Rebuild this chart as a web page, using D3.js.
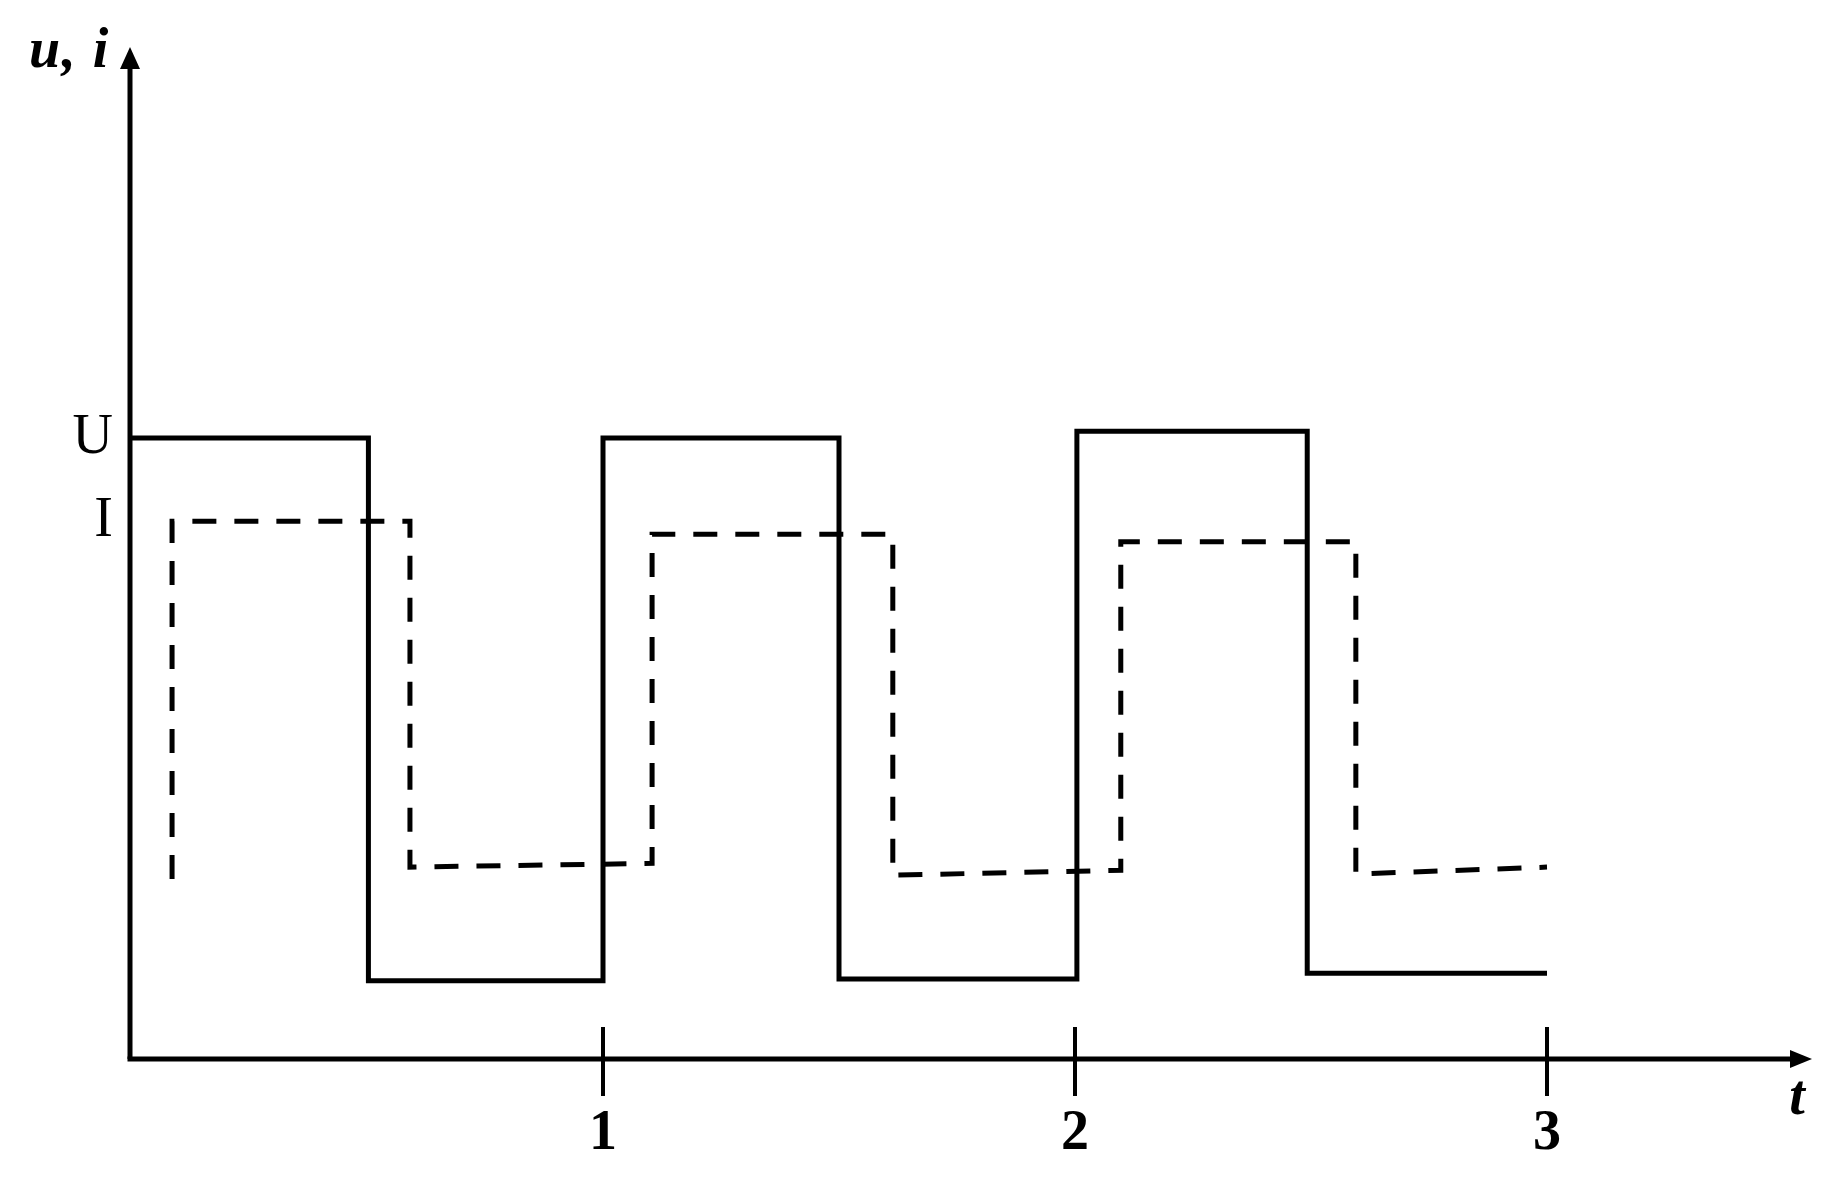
<!DOCTYPE html>
<html>
<head>
<meta charset="utf-8">
<script src="https://cdnjs.cloudflare.com/ajax/libs/d3/7.8.5/d3.min.js"></script>
<style>
  body { margin: 0; background: #fff; }
  text { font-family: "Liberation Serif", "DejaVu Serif", serif; fill: #000; }
</style>
</head>
<body>
<script>
// ---------------- DATA ----------------
var tTicks = [1, 2, 3]
var tickLabels = ['1', '2', '3']

// voltage u(t), step shape (t, value), U = 1
var uTimes  = [0, 0.503, 0.503, 1.0, 1.0, 1.5, 1.5, 2.004, 2.004, 2.492, 2.492, 3.0]
var uValues = [1.0, 1.0, 0.126, 0.126, 1.0, 1.0, 0.129, 0.129, 1.011, 1.011, 0.138, 0.138]

// current i(t), dashed
var iTimes  = [0.087, 0.087, 0.591, 0.591, 1.104, 1.104, 1.614, 1.614, 2.097, 2.097, 2.595, 2.595, 3.0]
var iValues = [0.290, 0.866, 0.866, 0.309, 0.315, 0.845, 0.845, 0.296, 0.304, 0.833, 0.833, 0.298, 0.309]

var levelNames = ['U', 'I']
var levelValues = [1.0, 0.866]

// ---------------- SVG ----------------
var width = 1842
var height = 1179

var svg = d3.select('body')
  .append('svg')
  .attr('width', width)
  .attr('height', height)

svg.append('rect')
  .attr('width', '100%')
  .attr('height', '100%')
  .attr('fill', '#fff')

var x = d3.scaleLinear().domain([0, 3]).range([131, 1547])
var y = d3.scaleLinear().domain([0, 1]).range([1059, 438])

// ---------------- AXES ----------------
var axisX0 = x(0) - 1
var axisY0 = y(0)
var yTop = 47
var xEnd = 1812

svg.append('line')
  .attr('x1', axisX0).attr('y1', axisY0)
  .attr('x2', axisX0).attr('y2', yTop + 16)
  .attr('stroke', '#000').attr('stroke-width', 5)

svg.append('line')
  .attr('x1', axisX0 - 2.5).attr('y1', axisY0)
  .attr('x2', xEnd - 16).attr('y2', axisY0)
  .attr('stroke', '#000').attr('stroke-width', 5)

// arrow heads
svg.append('path')
  .attr('d', 'M' + axisX0 + ',' + yTop + ' L' + (axisX0 - 10) + ',' + (yTop + 22) + ' L' + (axisX0 + 10) + ',' + (yTop + 22) + ' Z')
  .attr('fill', '#000')

svg.append('path')
  .attr('d', 'M' + xEnd + ',' + axisY0 + ' L' + (xEnd - 22) + ',' + (axisY0 - 9) + ' L' + (xEnd - 22) + ',' + (axisY0 + 9) + ' Z')
  .attr('fill', '#000')

// ticks through the axis
svg.selectAll('.tick')
  .data(tTicks)
  .enter()
  .append('line')
  .attr('class', 'tick')
  .attr('x1', d => x(d)).attr('x2', d => x(d))
  .attr('y1', axisY0 - 32).attr('y2', axisY0 + 37)
  .attr('stroke', '#000').attr('stroke-width', 4)

svg.selectAll('.ticklabel')
  .data(tTicks)
  .enter()
  .append('text')
  .attr('class', 'ticklabel')
  .attr('x', d => x(d))
  .attr('y', 1149)
  .attr('text-anchor', 'middle')
  .attr('font-size', 56)
  .attr('font-weight', 'bold')
  .text((d, i) => tickLabels[i])

// level labels
svg.selectAll('.level')
  .data(levelValues)
  .enter()
  .append('text')
  .attr('class', 'level')
  .attr('x', 113)
  .attr('y', d => y(d) + 15)
  .attr('text-anchor', 'end')
  .attr('font-size', 56)
  .text((d, i) => levelNames[i])

// axis titles
svg.append('text')
  .attr('x', 29).attr('y', 67)
  .attr('font-size', 56)
  .attr('font-weight', 'bold')
  .attr('font-style', 'italic')
  .attr('letter-spacing', 1.5)
  .text('u, i')

svg.append('text')
  .attr('x', 1797).attr('y', 1114)
  .attr('text-anchor', 'middle')
  .attr('font-size', 56)
  .attr('font-weight', 'bold')
  .attr('font-style', 'italic')
  .text('t')

// ---------------- WAVES ----------------
var line = d3.line()
  .x(d => x(d[0]))
  .y(d => y(d[1]))

var uPoints = uTimes.map((t, i) => [t, uValues[i]])
var iPoints = iTimes.map((t, i) => [t, iValues[i]])

svg.append('path')
  .attr('d', line(uPoints))
  .attr('fill', 'none')
  .attr('stroke', '#000')
  .attr('stroke-width', 5)

svg.append('path')
  .attr('d', line(iPoints))
  .attr('fill', 'none')
  .attr('stroke', '#000')
  .attr('stroke-width', 5)
  .attr('stroke-dasharray', '24,18')
</script>
</body>
</html>
